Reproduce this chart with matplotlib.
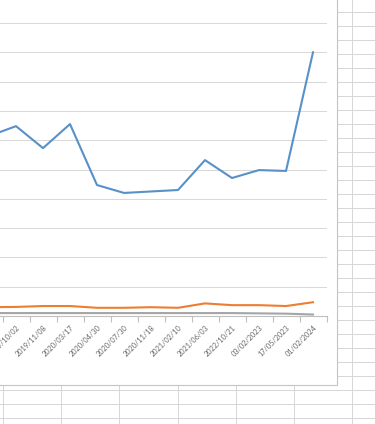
import matplotlib
matplotlib.use("Agg")
import matplotlib.pyplot as plt
from matplotlib.patches import Rectangle

# ---- data (first category lies off the left edge) ----
categories = ["2019/08/20", "2019/10/02", "2019/11/08", "2020/03/17", "2020/04/30",
              "2020/07/30", "2020/11/18", "2021/02/10", "2021/06/03", "2022/10/21",
              "03/02/2023", "17/05/2023", "01/02/2024"]
series_blue = [614, 648, 573, 655, 447, 420, 425, 430, 532, 471, 498, 495, 900]
series_orange = [30, 31, 34, 34, 28, 28, 30, 28, 43, 37, 37, 34, 47]
series_gray = [10, 10, 10, 10, 10, 10, 10, 10, 10, 10, 9, 8, 5]
y_ticks = list(range(0, 1001, 100))

W, H = 375, 424
fig = plt.figure(figsize=(W / 100, H / 100), dpi=100)
fig.patch.set_facecolor("white")

# ---- spreadsheet background ----
bg = fig.add_axes([0, 0, 1, 1])
bg.set_xlim(0, W)
bg.set_ylim(H, 0)
bg.axis("off")
grid_c = "#d6d6d6"
for k in range(0, 31):
    y = 12 + 14 * k
    bg.plot([0, W], [y, y], color=grid_c, lw=0.7, zorder=1)
for k in range(0, 8):
    x = 3 + 58.2 * k
    bg.plot([x, x], [0, H], color=grid_c, lw=0.7, zorder=1)
bg.add_patch(Rectangle((-5, -5), 342, 390, facecolor="white",
                       edgecolor="#c4c4c4", lw=0.8, zorder=2))

# ---- chart ----
n = len(categories)
step = 27.0
left_px = 16 - 1.5 * step
ax = fig.add_axes([left_px / W, (H - 316) / H, n * step / W, (316 - 23) / H])
ax.set_facecolor("none")
ax.set_zorder(3)
x = list(range(n))
ax.plot(x, series_blue, color="#5890c8", lw=1.5, solid_joinstyle="round", zorder=4)
ax.plot(x, series_orange, color="#ed7d31", lw=1.5, solid_joinstyle="round", zorder=4)
ax.plot(x, series_gray, color="#a5a5a5", lw=1.5, solid_joinstyle="round", zorder=4)

ax.set_xlim(-0.5, n - 0.5)
ax.set_ylim(0, 1000)
ax.set_yticks(y_ticks)
ax.yaxis.grid(True, color="#d9d9d9", lw=0.75)
ax.set_axisbelow(True)
ax.tick_params(axis="y", length=0, labelleft=False)
for s in ["top", "right", "left"]:
    ax.spines[s].set_visible(False)
ax.spines["bottom"].set_color("#bfbfbf")
ax.spines["bottom"].set_linewidth(0.8)

ax.set_xticks(x)
ax.set_xticklabels(categories, rotation=45, ha="right", rotation_mode="anchor",
                   fontsize=5.3, color="#666666", family="Lato")
ax.tick_params(axis="x", which="major", length=0, pad=6)
ax.set_xticks([i + 0.5 for i in range(-1, n)], minor=True)
ax.tick_params(axis="x", which="minor", length=4, color="#bfbfbf", width=0.8)

fig.savefig("out.png", dpi=100, facecolor="white")
